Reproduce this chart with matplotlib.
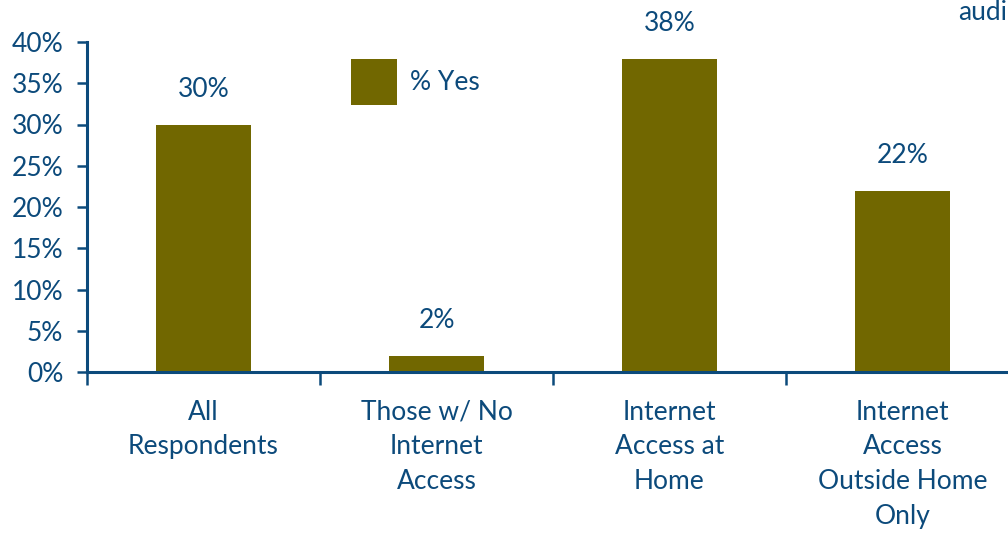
import matplotlib
matplotlib.use("Agg")
import matplotlib.pyplot as plt

categories = ["All\nRespondents", "Those w/ No\nInternet\nAccess", "Internet\nAccess at\nHome", "Internet\nAccess\nOutside Home\nOnly"]
values = [30, 2, 38, 22]
value_labels = ["30%", "2%", "38%", "22%"]
yticks = [0, 5, 10, 15, 20, 25, 30, 35, 40]
ytick_labels = ["0%", "5%", "10%", "15%", "20%", "25%", "30%", "35%", "40%"]
series_name = "% Yes"

BAR = "#716700"
TXT = "#0c4a7b"
FS = 19
plt.rcParams['font.family'] = ['Lato', 'DejaVu Sans']

fig = plt.figure(figsize=(10.08, 5.33), dpi=100)
ax = fig.add_axes([87/1008, 161/533, 932/1008, 330/533])
x = list(range(len(categories)))
bars = ax.bar(x, values, width=0.41, color=BAR, label=series_name, zorder=2)
ax.set_xlim(-0.5, 3.5)
ax.set_ylim(0, 40)
ax.set_yticks(yticks)
ax.set_yticklabels(ytick_labels, fontsize=FS, color=TXT)
ax.set_xticks(x)
ax.set_xticklabels(categories, fontsize=FS, color=TXT, linespacing=1.48, va='top')
ax.set_xticks([-0.5, 0.5, 1.5, 2.5, 3.5], minor=True)
ax.tick_params(axis='x', which='major', length=0, pad=20)
ax.tick_params(axis='x', which='minor', length=9, width=1.8, color=TXT, direction='out')
ax.tick_params(axis='y', length=7, width=1.8, color=TXT, direction='out', pad=10)
for s in ['top', 'right']:
    ax.spines[s].set_visible(False)
for s in ['left', 'bottom']:
    ax.spines[s].set_color(TXT)
    ax.spines[s].set_linewidth(2.2)
ax.spines['bottom'].set_zorder(3)

for b, lab in zip(bars, value_labels):
    ax.annotate(lab, (b.get_x() + b.get_width()/2, b.get_height()),
                xytext=(0, 25), textcoords='offset points', ha='center', va='center',
                fontsize=FS, color=TXT)

leg = fig.legend(loc='upper left', bbox_to_anchor=(351/1008, 1 - 59/533), frameon=False,
                 fontsize=FS, handlelength=1.75, handleheight=2.3, borderpad=0, borderaxespad=0,
                 handletextpad=0.5)
for t in leg.get_texts():
    t.set_color(TXT)

fig.text(958/1008, 1.0, "audi", fontsize=FS, color=TXT, ha='left', va='top')

fig.savefig("out.png", dpi=100)
